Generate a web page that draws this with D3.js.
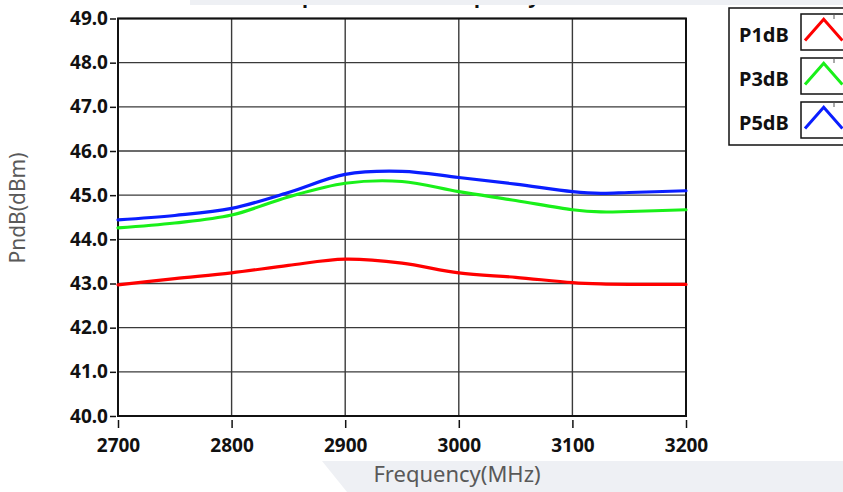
<!DOCTYPE html>
<html>
<head>
<meta charset="utf-8">
<script src="https://cdn.jsdelivr.net/npm/d3@7/dist/d3.min.js"></script>
<style>
  body { margin: 0; background: #fff; }
  svg { display: block; font-family: "Noto Sans", "Open Sans", sans-serif; }
</style>
</head>
<body>
<div id="chart"></div>
<script>
const W = 843, H = 492;
const margin = { left: 118, top: 18.5, right: 686, bottom: 416 };

// frequency points (MHz)
const freqs = [2700, 2750, 2800, 2850, 2900, 2950, 3000, 3050, 3100, 3125, 3150, 3200];
// series values (dBm)
const p1dB = [42.97, 43.11, 43.24, 43.41, 43.55, 43.46, 43.24, 43.14, 43.02, 42.99, 42.98, 42.98];
const p3dB = [44.26, 44.37, 44.55, 44.96, 45.27, 45.31, 45.08, 44.88, 44.67, 44.62, 44.63, 44.67];
const p5dB = [44.44, 44.54, 44.70, 45.06, 45.47, 45.54, 45.40, 45.25, 45.08, 45.04, 45.06, 45.10];

const xTicks = [2700, 2800, 2900, 3000, 3100, 3200];
const yTicks = [40, 41, 42, 43, 44, 45, 46, 47, 48, 49];

const seriesNames = ["P1dB", "P3dB", "P5dB"];
const seriesColors = ["#ff0000", "#19f019", "#0a1eff"];
const seriesData = [p1dB, p3dB, p5dB];

const svg = d3.select("#chart").append("svg").attr("width", W).attr("height", H);

const x = d3.scaleLinear().domain([2700, 3200]).range([margin.left, margin.right]);
const y = d3.scaleLinear().domain([40, 49]).range([margin.bottom, margin.top]);

// title, mostly cut off at the top edge (as in the source)
svg.append("text")
    .attr("x", 402).attr("y", 3)
    .attr("text-anchor", "middle")
    .attr("font-size", "20px").attr("font-weight", "bold")
    .attr("fill", "#111")
    .text("Output Power vs Frequency");

// light bands
svg.append("rect").attr("x", 190).attr("y", 0).attr("width", W - 190).attr("height", 5).attr("fill", "#eef0f4");
svg.append("path").attr("d", `M322,461 L${W},461 L${W},${H} L347,${H} Z`).attr("fill", "#eef0f4");

// gridlines
svg.append("g").selectAll("line").data(xTicks).enter().append("line")
    .attr("x1", d => x(d)).attr("x2", d => x(d))
    .attr("y1", margin.top).attr("y2", margin.bottom)
    .attr("stroke", "#3a3a3a").attr("stroke-width", 1.4);
svg.append("g").selectAll("line").data(yTicks).enter().append("line")
    .attr("x1", margin.left).attr("x2", margin.right)
    .attr("y1", d => y(d)).attr("y2", d => y(d))
    .attr("stroke", "#3a3a3a").attr("stroke-width", 1.4);

// frame
svg.append("rect")
    .attr("x", margin.left).attr("y", margin.top)
    .attr("width", margin.right - margin.left).attr("height", margin.bottom - margin.top)
    .attr("fill", "none").attr("stroke", "#111").attr("stroke-width", 2);

// y axis
const yAxis = svg.append("g").attr("transform", `translate(${margin.left - 2},0)`)
    .call(d3.axisLeft(y).tickValues(yTicks).tickFormat(d3.format(".1f")).tickSize(6).tickPadding(2));
yAxis.select(".domain").remove();
yAxis.selectAll(".tick line").attr("stroke", "#111").attr("stroke-width", 1.5);
yAxis.selectAll(".tick text")
    .attr("font-family", "Noto Sans").attr("font-size", "19px").attr("font-weight", "bold").attr("fill", "#111");

// x axis
const xAxis = svg.append("g").attr("transform", `translate(0,${margin.bottom + 4})`)
    .call(d3.axisBottom(x).tickValues(xTicks).tickFormat(d3.format("d")).tickSize(8).tickPadding(11));
xAxis.select(".domain").remove();
xAxis.selectAll(".tick line").attr("stroke", "#111").attr("stroke-width", 1.5);
xAxis.selectAll(".tick text")
    .attr("font-family", "Noto Sans").attr("font-size", "19px").attr("font-weight", "bold").attr("fill", "#111");

// axis titles
svg.append("text")
    .attr("transform", "translate(25,208) rotate(-90)")
    .attr("text-anchor", "middle")
    .attr("font-size", "21px").attr("fill", "#595959")
    .text("PndB(dBm)");
svg.append("text")
    .attr("x", 457).attr("y", 482)
    .attr("text-anchor", "middle")
    .attr("font-size", "22px").attr("fill", "#595959")
    .text("Frequency(MHz)");

// lines
const line = d3.line()
    .x((d, i) => x(freqs[i]))
    .y(d => y(d))
    .curve(d3.curveCatmullRom.alpha(0.5));

seriesData.forEach((vals, k) => {
    svg.append("path")
        .datum(vals)
        .attr("d", line)
        .attr("fill", "none")
        .attr("stroke", seriesColors[k])
        .attr("stroke-width", 3.2)
        .attr("stroke-linecap", "round");
});

// legend
const legend = svg.append("g");
legend.append("rect")
    .attr("x", 729).attr("y", 8).attr("width", 140).attr("height", 137)
    .attr("fill", "#fff").attr("stroke", "#111").attr("stroke-width", 1.5);

seriesNames.forEach((name, k) => {
    const top = 14 + k * 44;
    legend.append("text")
        .attr("x", 739).attr("y", top + 28)
        .attr("font-size", "20px").attr("font-weight", "bold").attr("fill", "#111")
        .text(name);
    legend.append("rect")
        .attr("x", 801).attr("y", top).attr("width", 60).attr("height", 36)
        .attr("fill", "#fff").attr("stroke", "#111").attr("stroke-width", 1.5);
    legend.append("line")
        .attr("x1", 834).attr("x2", 834).attr("y1", top).attr("y2", top + 5)
        .attr("stroke", "#555").attr("stroke-width", 1);
    legend.append("path")
        .attr("d", `M805,${top + 26.5} L823.7,${top + 5.3} L842.4,${top + 26.5}`)
        .attr("fill", "none").attr("stroke", seriesColors[k]).attr("stroke-width", 3);
});
</script>
</body>
</html>
